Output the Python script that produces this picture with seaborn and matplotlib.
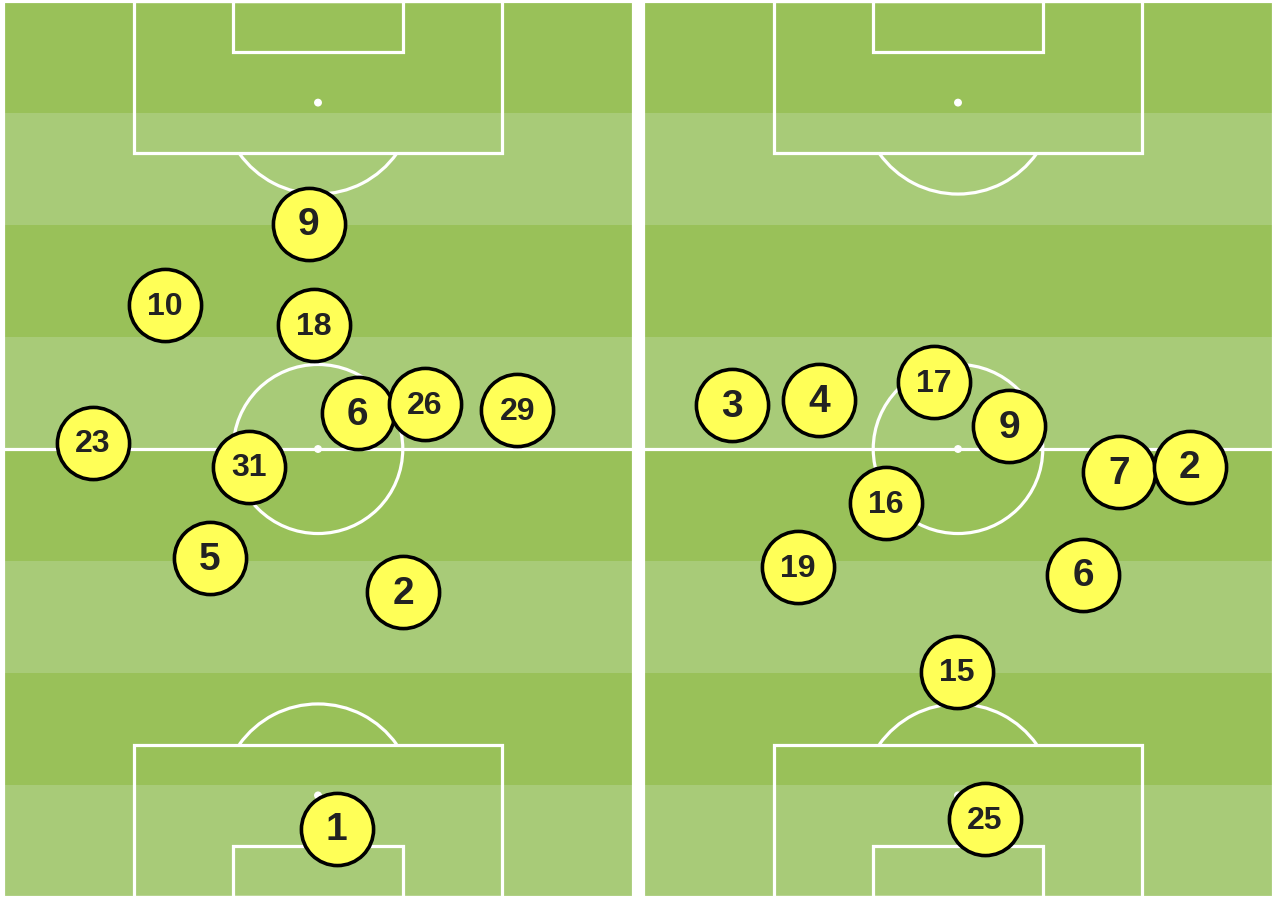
import numpy as np
import pandas as pd
import matplotlib
matplotlib.use("Agg")
import matplotlib.pyplot as plt
from matplotlib.patches import Rectangle, Circle, Arc
import seaborn as sns

# average positions, pitch in metres (68 wide, 97 long, y from top)
left_num = [9, 10, 18, 6, 26, 29, 23, 31, 5, 2, 1]
left_x = [33.0, 17.5, 33.6, 38.3, 45.5, 55.5, 9.7, 26.6, 22.3, 43.2, 36.0]
left_y = [24.1, 32.9, 35.1, 44.6, 43.6, 44.3, 47.8, 50.4, 60.3, 64.0, 89.6]

right_num = [3, 4, 17, 9, 7, 2, 16, 19, 6, 15, 25]
right_x = [9.6, 19.0, 31.4, 39.5, 51.4, 59.0, 26.2, 16.7, 47.5, 33.9, 36.9]
right_y = [43.7, 43.2, 41.3, 46.0, 51.0, 50.4, 54.4, 61.3, 62.1, 72.6, 88.6]

W, L = 68, 97
dark = "#99c159"
light = "#a8cb78"
yellow = "#ffff57"


def draw_pitch(ax):
    n = 8
    h = L / n
    for i in range(n):
        ax.add_patch(Rectangle((0, i * h), W, h, color=dark if i % 2 == 0 else light, lw=0, zorder=0))
    lc = dict(color="white", lw=2.3, fill=False, zorder=1)
    ax.add_patch(Rectangle((0, 0), W, L, clip_on=False, **lc))
    ax.plot([0, W], [L / 2, L / 2], color="white", lw=2.3, zorder=1)
    ax.add_patch(Circle((W / 2, L / 2), 9.15, **lc))
    ax.add_patch(Circle((W / 2, L / 2), 0.35, color="white", zorder=1))
    # the "D" outside each box
    r_d, c_d = 10.4, 10.5
    ang = np.degrees(np.arccos((16.5 - c_d) / r_d))
    for top in [True, False]:
        y0 = 0 if top else L - 16.5
        ax.add_patch(Rectangle((W / 2 - 19.9, y0), 39.8, 16.5, **lc))
        y1 = 0 if top else L - 5.5
        ax.add_patch(Rectangle((W / 2 - 9.16, y1), 18.32, 5.5, **lc))
        spot = 11 if top else L - 11
        ax.add_patch(Circle((W / 2, spot), 0.35, color="white", zorder=1))
        cy = c_d if top else L - c_d
        mid = 90 if top else 270
        ax.add_patch(Arc((W / 2, cy), 2 * r_d, 2 * r_d, theta1=mid - ang, theta2=mid + ang,
                         color="white", lw=2.3, zorder=1))
    ax.set_xlim(0, W)
    ax.set_ylim(L, 0)
    ax.axis("off")


def draw_team(ax, nums, xs, ys):
    df = pd.DataFrame({"num": nums, "x": xs, "y": ys})
    sns.scatterplot(data=df, x="x", y="y", s=2700, color=yellow, edgecolor="black",
                    linewidth=2.6, ax=ax, legend=False, zorder=3)
    for num, x, y in zip(nums, xs, ys):
        fs = 28 if num < 10 else 23
        ax.text(x, y + 0.2, str(num), ha="center", va="center", fontsize=fs,
                fontweight="bold", color="#222222", family="Liberation Sans", zorder=4)
    ax.set_xlim(0, W)
    ax.set_ylim(L, 0)
    ax.axis("off")


fig = plt.figure(figsize=(12.78, 9.0), dpi=100, facecolor="white")
fw, fh = 1278, 900
ax1 = fig.add_axes([3 / fw, (fh - 897) / fh, 630 / fw, 896 / fh])
ax2 = fig.add_axes([643 / fw, (fh - 897) / fh, 630 / fw, 896 / fh])

draw_pitch(ax1)
draw_pitch(ax2)
draw_team(ax1, left_num, left_x, left_y)
draw_team(ax2, right_num, right_x, right_y)

fig.savefig("out.png", dpi=100, facecolor="white")
